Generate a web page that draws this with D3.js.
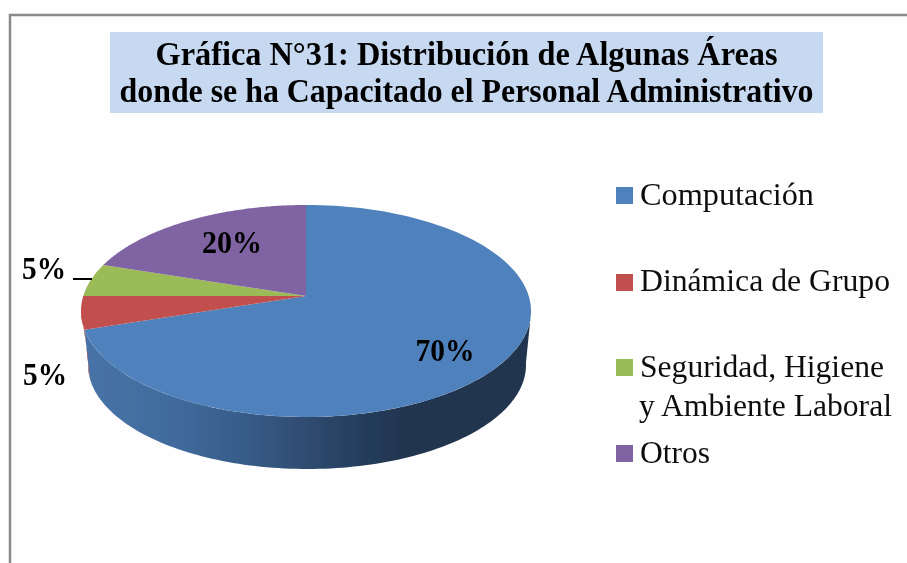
<!DOCTYPE html>
<html><head><meta charset="utf-8">
<script src="https://cdnjs.cloudflare.com/ajax/libs/d3/7.8.5/d3.min.js"></script>
<style>html,body{margin:0;padding:0;background:#fefefe}svg{display:block}text{font-family:"Liberation Serif",serif;fill:#111}</style>
</head><body><svg id="c" width="907" height="563"></svg>
<script>
const titleLines = ["Gráfica N°31: Distribución de Algunas Áreas", "donde se ha Capacitado el Personal Administrativo"];
const categories = ["Computación", "Dinámica de Grupo", "Seguridad, Higiene|y Ambiente Laboral", "Otros"];
const values = [70, 5, 5, 20];
const colors = ["#4f81bd", "#c0504d", "#9bbb59", "#8064a2"];

const svg = d3.select("#c");
const defs = svg.append("defs");
const soft = defs.append("filter").attr("id","soft").attr("filterUnits","userSpaceOnUse")
  .attr("x",0).attr("y",0).attr("width",907).attr("height",563);
soft.append("feGaussianBlur").attr("stdDeviation",0.5);
const g = svg.append("g").attr("filter","url(#soft)");

// frame
g.append("path").attr("d","M10,563V15H907").attr("fill","none").attr("stroke","#8a8a8a").attr("stroke-width",2.5);

// title
g.append("rect").attr("x",110).attr("y",32).attr("width",713).attr("height",81).attr("fill","#c6d9f1");
const titleY = [65, 102], titleW = [622, 694];
g.selectAll(".t").data(titleLines).join("text").attr("class","t")
  .attr("x",466.5).attr("y",(d,i)=>titleY[i]).attr("text-anchor","middle")
  .attr("font-size",33).attr("font-weight","bold").style("fill","#000")
  .attr("textLength",(d,i)=>titleW[i]).attr("lengthAdjust","spacingAndGlyphs").text(d=>d);

// pie geometry: perspective-tilted disc
const top_ = {cx:306, cy:311, rx:225, ry:106, ax:306, ay:296};
const bot  = {cx:307, cy:365, rx:219, ry:104, ax:306, ay:345};
const tilt = 0.47;
const arcs = d3.pie().value(d=>d).sort(null)(values);
function rim(e, a){           // ray from apex to the ellipse rim
  const dx=Math.sin(a), dy=-Math.cos(a)*tilt;
  const ox=(e.ax-e.cx)/e.rx, oy=(e.ay-e.cy)/e.ry, vx=dx/e.rx, vy=dy/e.ry;
  const A=vx*vx+vy*vy, B=2*(ox*vx+oy*vy), C=ox*ox+oy*oy-1;
  const t=(-B+Math.sqrt(B*B-4*A*C))/(2*A);
  return [e.ax+t*dx, e.ay+t*dy];
}
const line = d3.line();
const sweep = (e,a0,a1,n=120)=>d3.range(n+1).map(i=>rim(e,a0+(a1-a0)*i/n));

// side wall gradient
const grad = defs.append("linearGradient").attr("id","wall").attr("gradientUnits","userSpaceOnUse")
  .attr("x1",84).attr("x2",531).attr("y1",0).attr("y2",0);
[[0,"#4873a8"],[0.2,"#406b9c"],[0.35,"#385d8a"],[0.5,"#2f4b70"],[0.62,"#253d5c"],[0.72,"#203550"],[1,"#203550"]]
  .forEach(s=>grad.append("stop").attr("offset",s[0]).attr("stop-color",s[1]));

const endA = arcs[0].endAngle, rightA = Math.PI/2 + 0.17, leftA = endA + 0.175;
// blue wall
g.append("path").attr("d",line(sweep(top_,rightA,endA).concat(sweep(bot,endA,rightA)))+"Z").attr("fill","url(#wall)");
// red sliver
g.append("path").attr("d",line(sweep(top_,endA,leftA,20).concat(sweep(bot,leftA,endA,20)))+"Z").attr("fill","#a5403d");

// top faces
g.selectAll(".s").data(arcs).join("path").attr("class","s")
  .attr("d",d=>line([[top_.ax,top_.ay],...sweep(top_,d.startAngle,d.endAngle)])+"Z")
  .attr("fill",(d,i)=>colors[i]);

// data labels
const labelPos = [[445,361],[45,385],[44,279],[232,253]];
const labelW = [59,44,44,60];
g.selectAll(".l").data(values).join("text").attr("class","l")
  .attr("x",(d,i)=>labelPos[i][0]).attr("y",(d,i)=>labelPos[i][1]).attr("text-anchor","middle")
  .attr("font-size",32).attr("font-weight","bold").style("fill","#000")
  .attr("textLength",(d,i)=>labelW[i]).attr("lengthAdjust","spacingAndGlyphs").text(d=>d+"%");
g.append("line").attr("x1",73).attr("x2",92).attr("y1",279).attr("y2",279).attr("stroke","#000").attr("stroke-width",2);

// legend
const swatchY = [187,274,359,445], legendBase = [[205],[291],[377,416],[463]];
const legendW = [[174],[250],[244,253],[70]];
const lg = g.selectAll(".k").data(categories).join("g").attr("class","k");
lg.append("rect").attr("x",616).attr("y",(d,i)=>swatchY[i]).attr("width",17).attr("height",17).attr("fill",(d,i)=>colors[i]);
lg.each(function(d,i){
  d3.select(this).selectAll("text").data(d.split("|")).join("text")
    .attr("x",(t,j)=>j===1?639:640).attr("y",(t,j)=>legendBase[i][j]).attr("font-size",31.5)
    .attr("textLength",(t,j)=>legendW[i][j]).attr("lengthAdjust","spacingAndGlyphs").text(t=>t);
});
</script></body></html>
